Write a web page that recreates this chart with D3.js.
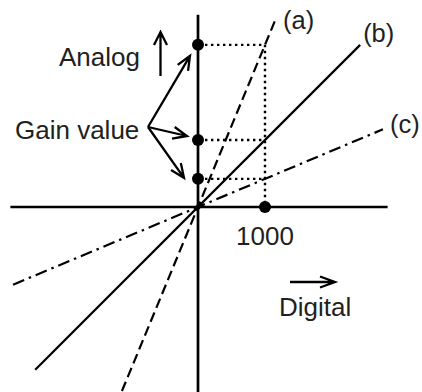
<!DOCTYPE html>
<html>
<head>
<meta charset="utf-8">
<script src="https://cdn.jsdelivr.net/npm/d3@7"></script>
<style>
  html, body { margin: 0; padding: 0; background: #fff; }
  svg { display: block; }
  text { font-family: "Liberation Sans", Arial, sans-serif; fill: #231f20; }
</style>
</head>
<body>
<svg id="chart" width="422" height="392"></svg>
<script>
// ---- data ----
const lineNames   = ["(a)", "(b)", "(c)"];
const gains       = [2.42, 1, 0.42];            // analog per digital
const digitalFrom = [-1135, -2430, -2760];      // line extents (digital units)
const digitalTo   = [1150, 2420, 2760];
const lineDash    = ["10,5", null, "12,5,2.5,5"];
const markedDigital = 1000;
const digitalAxisRange = [-2800, 2830];
const analogAxisRange  = [-2800, 2870];
const tickLabels = ["1000"];
const axisTitles = ["Analog", "Digital"];
const gainLabel = "Gain value";

// ---- layout ----
const FS = 26;
const svg = d3.select("#chart");
const x = d3.scaleLinear().domain([0, 1000]).range([198, 265]);
const y = d3.scaleLinear().domain([0, 1000]).range([207, 140]);

// axes
svg.append("line")
  .attr("x1", x(digitalAxisRange[0])).attr("x2", x(digitalAxisRange[1]))
  .attr("y1", y(0)).attr("y2", y(0))
  .attr("stroke", "#000").attr("stroke-width", 2.3);
svg.append("line")
  .attr("x1", x(0)).attr("x2", x(0))
  .attr("y1", y(analogAxisRange[0])).attr("y2", y(analogAxisRange[1]))
  .attr("stroke", "#000").attr("stroke-width", 2.7);

// dotted guide lines
const analogVals = gains.map(g => g * markedDigital);
svg.append("line")
  .attr("x1", x(markedDigital)).attr("x2", x(markedDigital))
  .attr("y1", y(analogVals[0])).attr("y2", y(0))
  .attr("stroke", "#000").attr("stroke-width", 2.4).attr("stroke-dasharray", "2.4,3.6");
analogVals.forEach(v => {
  svg.append("line")
    .attr("x1", x(0) + 7).attr("x2", x(markedDigital))
    .attr("y1", y(v)).attr("y2", y(v))
    .attr("stroke", "#000").attr("stroke-width", 2.4).attr("stroke-dasharray", "2.4,3.6");
});

// gain lines
const lineGen = d3.line().x(d => x(d[0])).y(d => y(d[1]));
lineNames.forEach((name, i) => {
  const pts = [[digitalFrom[i], digitalFrom[i] * gains[i]], [digitalTo[i], digitalTo[i] * gains[i]]];
  const p = svg.append("path").attr("d", lineGen(pts))
    .attr("fill", "none").attr("stroke", "#000").attr("stroke-width", 2.2);
  if (lineDash[i]) p.attr("stroke-dasharray", lineDash[i]);
});

// line labels
const labelOffsets = [[8, 8], [3, -3], [7, 4]];
lineNames.forEach((name, i) => {
  svg.append("text")
    .attr("x", x(digitalTo[i]) + labelOffsets[i][0])
    .attr("y", y(digitalTo[i] * gains[i]) + labelOffsets[i][1])
    .attr("font-size", FS - 0.5).text(name);
});

// dots
analogVals.forEach(v => {
  svg.append("circle").attr("cx", x(0)).attr("cy", y(v)).attr("r", 6).attr("fill", "#000");
});
svg.append("circle").attr("cx", x(markedDigital)).attr("cy", y(0)).attr("r", 6).attr("fill", "#000");
svg.append("circle").attr("cx", x(0)).attr("cy", y(0)).attr("r", 2.5).attr("fill", "#000");

// arrow helper (open arrowhead)
function arrow(x1, y1, x2, y2, headLen, halfW) {
  const a = Math.atan2(y2 - y1, x2 - x1);
  const bx = x2 - headLen * Math.cos(a), by = y2 - headLen * Math.sin(a);
  const nx = -Math.sin(a) * halfW, ny = Math.cos(a) * halfW;
  svg.append("path")
    .attr("d", `M${x1},${y1}L${x2},${y2}M${bx + nx},${by + ny}L${x2},${y2}L${bx - nx},${by - ny}`)
    .attr("fill", "none").attr("stroke", "#000").attr("stroke-width", 2.3)
    .attr("stroke-linejoin", "miter");
}

// Analog label + up arrow
svg.append("text").attr("x", 59).attr("y", 66).attr("font-size", FS).text(axisTitles[0]);
arrow(160.5, 76, 160.5, 32, 13, 6.5);

// Digital label + right arrow
svg.append("text").attr("x", 279).attr("y", 316).attr("font-size", FS).text(axisTitles[1]);
arrow(290, 282, 335, 282, 15, 5.5);

// tick label
svg.append("text").attr("x", x(markedDigital)).attr("y", 245)
  .attr("text-anchor", "middle").attr("font-size", FS).text(tickLabels[0]);

// Gain value label + arrows
svg.append("text").attr("x", 15).attr("y", 139).attr("font-size", FS).text(gainLabel);
const tipOffsets = [[-8, 11], [-11, -4], [-14, -1]];
analogVals.forEach((v, i) => {
  arrow(148, 127, x(0) + tipOffsets[i][0], y(v) + tipOffsets[i][1], 14, 6);
});
</script>
</body>
</html>
